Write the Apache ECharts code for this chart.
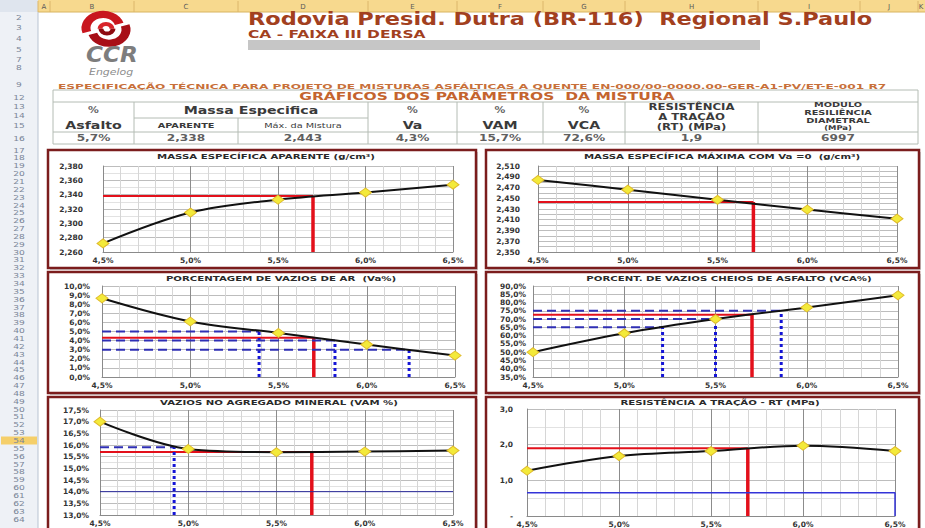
<!DOCTYPE html>
<html>
<head>
<meta charset="utf-8">
<script src="https://cdn.jsdelivr.net/npm/echarts@6/dist/echarts.min.js"></script>
<style>
  html, body { margin: 0; padding: 0; background: #ffffff; }
  #sheet { width: 925px; height: 528px; }
</style>
</head>
<body>
<div id="sheet"></div>
<script>
// ---- Trial mixes: % asphalt binder and measured parameters ----
const asphaltPct = [4.5, 5.0, 5.5, 6.0, 6.5];
const gmbValues  = [2.272, 2.315, 2.333, 2.343, 2.354];   // massa específica aparente
const gmmValues  = [2.484, 2.466, 2.447, 2.429, 2.412];   // massa específica máxima
const vaValues   = [8.65, 6.10, 4.84, 3.56, 2.36];        // Va %
const vcaValues  = [50.0, 61.4, 70.0, 77.0, 84.4];        // VCA %
const vamValues  = [17.0, 15.83, 15.69, 15.72, 15.76];    // VAM %
const rtValues   = [1.27, 1.68, 1.82, 1.97, 1.82];        // RT (MPa)

// ---- Design (project) values shown in the summary row ----
const designAsphalt = 5.7;
const designGmb = 2.338;
const designGmm = 2.443;
const designVa = 4.3;
const designVam = 15.7;
const designVca = 72.6;
const designRt = 1.9;
const designMr = 6997;

// ---- Specification limits and the binder content where each meets its curve ----
const vaLimits = [5.0, 4.0, 3.0];
const vaLimitAsphalt = [5.39, 5.82, 6.24];
const vcaLimits = [65, 70, 75];
const vcaLimitAsphalt = [5.21, 5.50, 5.86];
const vamLimits = [15.9];
const vamLimitAsphalt = [4.92];
const vamMinimum = 14.0;
const rtMinimum = 0.65;

// ---- Texts ----
const chartTitles = [
  'MASSA ESPECÍFICA APARENTE (g/cm³)',
  'MASSA ESPECÍFICA MÁXIMA COM Va =0  (g/cm³)',
  'PORCENTAGEM DE VAZIOS DE AR  (Va%)',
  'PORCENT. DE VAZIOS CHEIOS DE ASFALTO (VCA%)',
  'VAZIOS NO AGREGADO MINERAL (VAM %)',
  'RESISTÊNCIA A TRAÇÃO - RT (MPa)'
];
const columnLetters = ['A', 'B', 'C', 'D', 'E', 'F', 'G', 'H', 'I', 'J', 'K'];
const headerRowNumbers = [2, 3, 4, 5, 7, 8, 9, 12, 13, 14, 15, 16];
const bodyRowNumbers = [17, 18, 19, 20, 21, 22, 23, 24, 25, 26, 27, 28, 29, 30, 31, 32, 33, 34, 35, 36,
  37, 38, 39, 40, 41, 42, 43, 44, 45, 46, 47, 48, 49, 50, 51, 52, 53, 54, 55, 56, 57, 58, 59, 60,
  61, 62, 63, 64];
const activeRow = 54;

// y-axis ranges: [min, max, interval]
const yRanges = [
  [2.26, 2.38, 0.02],
  [2.35, 2.51, 0.01],
  [0, 10, 1],
  [35, 90, 5],
  [13, 17.5, 0.5],
  [0, 3, 1]
];

// ---------------- helpers ----------------
const FONT = 'DejaVu Sans';
const comma = (v, d) => v.toFixed(d).replace('.', ',');
const pairs = (xs, ys) => xs.map((x, i) => [x, ys[i]]);

// ---------------- page layout ----------------
const colEdges = [38, 50, 134, 238, 368, 457, 543, 625, 758, 860, 918, 932];
const headerRowY = [17, 27, 38, 49, 59, 67, 84, 97, 106, 115, 125, 138];
const bodyRowTop = 150, bodyRowStep = 7.85;

const panels = [
  { box: [48, 150, 428, 118], grid: { left: 103, top: 166, width: 350, height: 86 }, tx: 266, ty: 157, lm: 20 },
  { box: [486, 150, 433, 118], grid: { left: 538, top: 166, width: 359, height: 86 }, tx: 722, ty: 157, lm: 18 },
  { box: [48, 272, 428, 121], grid: { left: 102, top: 286, width: 353, height: 91 }, tx: 281, ty: 279, lm: 12 },
  { box: [486, 272, 433, 121], grid: { left: 533, top: 286, width: 365, height: 91 }, tx: 729, ty: 279, lm: 7 },
  { box: [48, 397, 428, 140], grid: { left: 100, top: 410, width: 353, height: 105 }, tx: 279, ty: 403, lm: 11 },
  { box: [486, 397, 433, 140], grid: { left: 527, top: 409, width: 368, height: 107 }, tx: 720, ty: 403, lm: 14 }
];

const graphics = [];
function gText(x, y, str, o) {
  o = o || {};
  const align = o.align || 'left';
  graphics.push({
    type: 'text', z: o.z || 20, silent: true,
    x: x, y: y, scaleX: o.sx || 1, scaleY: 1,
    style: {
      x: 0, y: 0, text: str,
      fill: o.fill || '#333',
      font: (o.style || 'normal') + ' ' + (o.weight || 'normal') + ' ' + (o.size || 9) + 'px "' + (o.family || FONT) + '"',
      textAlign: align, align: align,
      textVerticalAlign: 'middle', verticalAlign: 'middle'
    }
  });
}
function gLine(x1, y1, x2, y2, stroke, w, z) {
  graphics.push({ type: 'line', z: z || 5, silent: true,
    shape: { x1: x1, y1: y1, x2: x2, y2: y2 }, style: { stroke: stroke, lineWidth: w || 1 } });
}
function gRect(x, y, w, h, style, z) {
  graphics.push({ type: 'rect', z: z || 1, silent: true, shape: { x: x, y: y, width: w, height: h }, style: style });
}

// spreadsheet column header bar
gRect(0, 0, 38, 12, { fill: '#dfe5ee' }, 1);
gRect(38, 0, 890, 12, { fill: '#f7d98e' }, 1);
gLine(38, 12, 925, 12, '#d8b460', 1);
colEdges.forEach(x => gLine(x, 1, x, 12, '#dcb66a', 1));
columnLetters.forEach((c, i) => {
  const cx = Math.min((colEdges[i] + colEdges[i + 1]) / 2, 921);
  gText(cx, 6.5, c, { size: 7, fill: '#5a5a5a', align: 'center' });
});

// row header column
gRect(0, 12, 38, 516, { fill: '#eef1f6' }, 1);
gLine(38, 12, 38, 528, '#b9c3d2', 1);
headerRowNumbers.forEach((n, i) => gText(19, headerRowY[i], String(n), { size: 7, fill: '#7a8698', align: 'center', sx: 1.3 }));
bodyRowNumbers.forEach((n, i) => {
  const y = bodyRowTop + i * bodyRowStep;
  if (n === activeRow) gRect(1, y - 4, 36, 8, { fill: '#f5cf6a' }, 2);
  gText(19, y, String(n), { size: 7, fill: '#7a8698', align: 'center', sx: 1.3 });
});

// logo
graphics.push({
  type: 'group', x: 106, y: 28, scaleY: 0.8, silent: true, z: 10,
  children: [
    { type: 'arc', shape: { cx: -3, cy: 0, r: 17, startAngle: Math.PI * 0.9, endAngle: Math.PI * 1.9 },
      style: { stroke: '#c8161e', lineWidth: 9, fill: null }, z: 10 },
    { type: 'arc', shape: { cx: 3, cy: 2, r: 17, startAngle: -Math.PI * 0.1, endAngle: Math.PI * 0.9 },
      style: { stroke: '#a80f17', lineWidth: 9, fill: null }, z: 10 },
    { type: 'arc', shape: { cx: 0, cy: 1, r: 6, startAngle: Math.PI * 1.0, endAngle: Math.PI * 2.0 },
      style: { stroke: '#d8242a', lineWidth: 5, fill: null }, z: 10 },
    { type: 'arc', shape: { cx: 1, cy: 1, r: 6, startAngle: 0, endAngle: Math.PI * 1.0 },
      style: { stroke: '#8e0a10', lineWidth: 5, fill: null }, z: 10 }
  ]
});
gText(86, 55, 'CCR', { size: 21, weight: 'bold', style: 'italic', fill: '#7d7d7d', sx: 1.1 });
gText(89, 72, 'Engelog', { size: 9.5, style: 'italic', fill: '#8c8c8c', sx: 1.15 });

// heading
gText(248, 19, 'Rodovia Presid. Dutra (BR-116)  Regional S.Paulo', { size: 17, weight: 'bold', fill: '#a2401e', sx: 1.32 });
gText(248, 34.5, 'CA - FAIXA III DERSA', { size: 10, weight: 'bold', fill: '#a2401e', sx: 1.55 });
gRect(248, 40, 512, 10, { fill: '#c6c6c6' }, 2);
gText(58, 86, 'ESPECIFICAÇÃO TÉCNICA PARA PROJETO DE MISTURAS ASFÁLTICAS A QUENTE EN-000/00-0000.00-GER-A1-PV/ET-E-001 R7',
  { size: 7.6, weight: 'bold', fill: '#c8703a', sx: 1.6 });

// summary table
const tL = 53, tR = 918, tTop = 90, tTitle = 102, tMid = 118, tVal = 132, tBot = 144;
const tCols = [53, 134, 238, 368, 457, 543, 625, 758, 918];
const gridCol = '#b4bcb4';
gLine(tL, tTop, tR, tTop, gridCol);
gLine(tL, tTitle, tR, tTitle, gridCol);
gLine(134, tMid, 368, tMid, gridCol);
gLine(tL, tVal, tR, tVal, gridCol);
gLine(tL, tBot, tR, tBot, gridCol);
gLine(tL, tTop, tL, tBot, gridCol);
gLine(tR, tTop, tR, tBot, gridCol);
tCols.slice(1, -1).forEach(x => {
  if (x === 238) gLine(x, tMid, x, tBot, gridCol);
  else gLine(x, tTitle, x, tBot, gridCol);
});
gText(487, 96.5, 'GRÁFICOS DOS PARÂMETROS  DA MISTURA', { size: 10, weight: 'bold', fill: '#c4642e', align: 'center', sx: 1.55 });
const mid = (a, b) => (a + b) / 2;
const headColor = '#3a3a3a';
const SX = 1.35;
gText(mid(53, 134), 110, '%', { size: 8, fill: '#666', align: 'center', weight: 'bold', sx: SX });
gText(mid(53, 134), 125.5, 'Asfalto', { size: 10.5, weight: 'bold', fill: headColor, align: 'center', sx: SX });
gText(mid(134, 368), 110, 'Massa Especifica', { size: 10.5, weight: 'bold', fill: headColor, align: 'center', sx: SX });
gText(mid(134, 238), 125.5, 'APARENTE', { size: 7.2, weight: 'bold', fill: headColor, align: 'center', sx: SX });
gText(mid(238, 368), 125.5, 'Máx. da Mistura', { size: 7.2, fill: headColor, align: 'center', sx: SX });
[['Va', 368, 457], ['VAM', 457, 543], ['VCA', 543, 625]].forEach(c => {
  gText(mid(c[1], c[2]), 110, '%', { size: 8, fill: '#666', align: 'center', weight: 'bold', sx: SX });
  gText(mid(c[1], c[2]), 125.5, c[0], { size: 10.5, weight: 'bold', fill: headColor, align: 'center', sx: SX });
});
gText(mid(625, 758), 106.5, 'RESISTÊNCIA', { size: 9, weight: 'bold', fill: headColor, align: 'center', sx: 1.3 });
gText(mid(625, 758), 116.5, 'A TRAÇÃO', { size: 9, weight: 'bold', fill: headColor, align: 'center', sx: 1.3 });
gText(mid(625, 758), 126.5, '(RT) (MPa)', { size: 9, weight: 'bold', fill: headColor, align: 'center', sx: 1.3 });
gText(mid(758, 918), 104.5, 'MODULO', { size: 7.5, weight: 'bold', fill: headColor, align: 'center', sx: 1.3 });
gText(mid(758, 918), 112.5, 'RESILIÊNCIA', { size: 7.5, weight: 'bold', fill: headColor, align: 'center', sx: 1.3 });
gText(mid(758, 918), 120.5, 'DIAMETRAL', { size: 7.5, weight: 'bold', fill: headColor, align: 'center', sx: 1.3 });
gText(mid(758, 918), 128, '(MPa)', { size: 6.5, weight: 'bold', fill: headColor, align: 'center', sx: 1.3 });
const summaryCells = [
  comma(designAsphalt, 1) + '%', comma(designGmb, 3), comma(designGmm, 3), comma(designVa, 1) + '%',
  comma(designVam, 1) + '%', comma(designVca, 1) + '%', comma(designRt, 1), String(designMr)
];
summaryCells.forEach((s, i) => {
  gText(mid(tCols[i], tCols[i + 1]), 138.5, s, { size: 9, weight: 'bold', fill: '#606060', align: 'center', sx: SX });
});

// chart frames and titles
panels.forEach((p, i) => {
  gRect(p.box[0] + 2, p.box[1] + 2, p.box[2], p.box[3], { fill: '#cfcfcf' }, 0);
  gRect(p.box[0], p.box[1], p.box[2], p.box[3], { fill: '#ffffff', stroke: '#7b1d1d', lineWidth: 2.5 }, 1);
  gText(p.tx, p.ty, chartTitles[i], { size: 6.8, weight: 'bold', fill: '#2a2a2a', align: 'center', sx: 1.5 });
});

// ---------------- chart axes and series ----------------
const curves = [gmbValues, gmmValues, vaValues, vcaValues, vamValues, rtValues];
const designValues = [designGmb, designGmm, designVa, designVca, designVam, designRt];
const yFormatters = [
  v => comma(v, 3),
  v => (Math.round((v - 2.35) * 100) % 2 === 0 ? comma(v, 3) : ''),
  v => comma(v, 1) + '%',
  v => comma(v, 1) + '%',
  v => comma(v, 1) + '%',
  v => (v === 0 ? '-' : comma(v, 1))
];
const yMinor = [2, 0, 0, 0, 2, 2];

const RED = '#e3101b';
const BLUE_DASH = '#2f2fb4';
const BLUE_DOT = '#1414d6';

const grids = [], xAxes = [], yAxes = [], series = [];
panels.forEach((p, i) => {
  grids.push(Object.assign({ containLabel: false, z: 3 }, p.grid));
  xAxes.push({
    type: 'value', gridIndex: i, min: 4.5, max: 6.5, interval: 0.5, z: 3,
    axisLine: { show: true, onZero: false, lineStyle: { color: '#8a8a8a', width: 1 } },
    axisTick: { show: false },
    axisLabel: { margin: 4, fontFamily: FONT, fontSize: 7.5, fontWeight: 'bold', color: '#333',
      formatter: v => comma(v, 1) + '%' },
    splitLine: { show: true, lineStyle: { color: '#8c8c8c', width: 1 } },
    minorTick: { show: false, splitNumber: 5 },
    minorSplitLine: { show: true, lineStyle: { color: '#d6d6d6', width: 1 } }
  });
  const r = yRanges[i];
  yAxes.push({
    type: 'value', gridIndex: i, min: r[0], max: r[1], interval: r[2], z: 3,
    axisLine: { show: true, lineStyle: { color: '#8a8a8a', width: 1 } },
    axisTick: { show: false },
    axisLabel: { margin: p.lm, fontFamily: FONT, fontSize: 7.5, fontWeight: 'bold', color: '#333',
      formatter: yFormatters[i] },
    splitLine: { show: true, lineStyle: { color: '#bdbdbd', width: 1 } },
    minorTick: { show: false, splitNumber: yMinor[i] || 5 },
    minorSplitLine: { show: yMinor[i] > 0, lineStyle: { color: '#e2e2e2', width: 1 } }
  });

  const yMin = r[0];
  const d = designValues[i];
  // design reference lines (red)
  series.push({
    type: 'line', xAxisIndex: i, yAxisIndex: i, symbol: 'none', silent: true, z: 4,
    lineStyle: { color: RED, width: 2 }, data: [[4.5, d], [designAsphalt, d]]
  });
  series.push({
    type: 'line', xAxisIndex: i, yAxisIndex: i, symbol: 'none', silent: true, z: 4,
    lineStyle: { color: RED, width: 3.5, cap: 'butt' }, data: [[designAsphalt, yMin], [designAsphalt, d]]
  });
});

// specification limit lines
function limitLines(i, limits, xs, yMin) {
  limits.forEach((lim, k) => {
    series.push({
      type: 'line', xAxisIndex: i, yAxisIndex: i, symbol: 'none', silent: true, z: 4,
      lineStyle: { color: BLUE_DASH, width: 2, type: [9, 5] }, data: [[4.5, lim], [xs[k], lim]]
    });
    series.push({
      type: 'line', xAxisIndex: i, yAxisIndex: i, symbol: 'none', silent: true, z: 4,
      lineStyle: { color: BLUE_DOT, width: 3, type: [3, 3], cap: 'butt' }, data: [[xs[k], yMin], [xs[k], lim]]
    });
  });
}
limitLines(2, vaLimits, vaLimitAsphalt, yRanges[2][0]);
limitLines(3, vcaLimits, vcaLimitAsphalt, yRanges[3][0]);
limitLines(4, vamLimits, vamLimitAsphalt, yRanges[4][0]);
series.push({
  type: 'line', xAxisIndex: 4, yAxisIndex: 4, symbol: 'none', silent: true, z: 4,
  lineStyle: { color: '#2a2a9c', width: 1 }, data: [[4.5, vamMinimum], [6.5, vamMinimum]]
});
series.push({
  type: 'line', xAxisIndex: 5, yAxisIndex: 5, symbol: 'none', silent: true, z: 4,
  lineStyle: { color: '#3434d8', width: 1.5 }, data: [[4.5, rtMinimum], [6.5, rtMinimum], [6.5, 0]]
});

// measured curves with yellow markers
curves.forEach((vals, i) => {
  series.push({
    type: 'line', xAxisIndex: i, yAxisIndex: i, z: 6, smooth: 0.35,
    symbol: 'diamond', symbolSize: [12, 9],
    itemStyle: { color: '#f3ea3a', borderColor: '#e0bb2a', borderWidth: 1 },
    lineStyle: { color: '#111', width: 2 },
    data: pairs(asphaltPct, vals)
  });
});

const chart = echarts.init(document.getElementById('sheet'), null, { renderer: 'svg' });
chart.setOption({
  animation: false,
  backgroundColor: '#ffffff',
  grid: grids,
  xAxis: xAxes,
  yAxis: yAxes,
  series: series,
  graphic: { elements: graphics }
});
</script>
</body>
</html>
